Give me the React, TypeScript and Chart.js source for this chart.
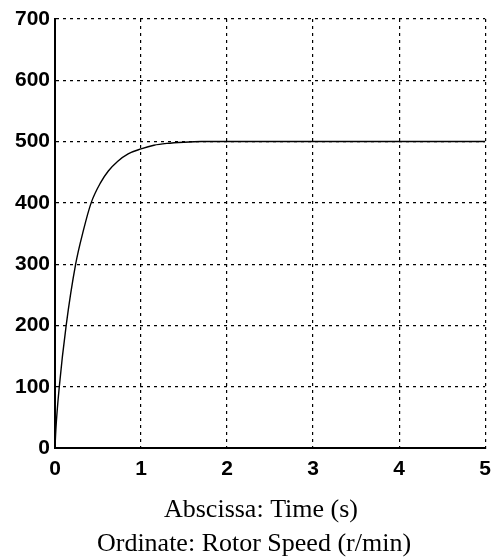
import React, { useEffect, useRef } from "react";
import { Chart, registerables } from "chart.js";

Chart.register(...registerables);

const timeS = [0, 0.01, 0.05, 0.13, 0.24, 0.33, 0.42, 0.53, 0.62, 0.73, 0.85, 1.0, 1.15, 1.3, 1.5, 1.7, 2.0, 3.0, 4.0, 5.0];
const rotorSpeed = [0, 30, 100, 200, 300, 355, 400, 433, 452, 468, 480, 488, 494, 497, 499, 500, 500, 500, 500, 500];
const xTicks = [0, 1, 2, 3, 4, 5];
const yTicks = [0, 100, 200, 300, 400, 500, 600, 700];
const captionLines = ["Abscissa: Time (s)", "Ordinate: Rotor Speed (r/min)"];

const tickFont = { family: "'Liberation Sans Narrow', 'Arial Narrow', 'Liberation Sans', sans-serif", size: 21, weight: "bold" as const };

export default function App() {
  const ref = useRef<HTMLCanvasElement | null>(null);
  useEffect(() => {
    if (!ref.current) return;
    const captionPlugin = {
      id: "caption",
      afterDraw(chart: any) {
        const ctx = chart.ctx;
        ctx.save();
        ctx.fillStyle = "#000";
        ctx.font = "26px 'Liberation Serif', 'Times New Roman', serif";
        ctx.textAlign = "center";
        ctx.textBaseline = "alphabetic";
        ctx.fillText(captionLines[0], 261, 517);
        ctx.fillText(captionLines[1], 254, 551);
        ctx.restore();
      },
    };
    const chart = new Chart(ref.current, {
      type: "line",
      data: {
        datasets: [
          {
            data: timeS.map((t, i) => ({ x: t, y: rotorSpeed[i] })),
            borderColor: "#000",
            borderWidth: 1.4,
            pointRadius: 0,
            cubicInterpolationMode: "monotone",
            fill: false,
          },
        ],
      },
      options: {
        animation: false,
        responsive: false,
        maintainAspectRatio: false,
        layout: { padding: { top: 19, right: 14, bottom: 70, left: 0 } },
        plugins: { legend: { display: false }, tooltip: { enabled: false }, title: { display: false } },
        scales: {
          x: {
            type: "linear",
            min: 0,
            max: 5,
            afterBuildTicks: (s: any) => {
              s.ticks = xTicks.map((v) => ({ value: v }));
            },
            afterFit: (s: any) => {
              s.height = 40;
            },
            ticks: { color: "#000", font: tickFont, padding: 9, maxRotation: 0 },
            grid: { color: "#000", lineWidth: 1.2, drawTicks: false },
            border: { display: true, color: "#000", width: 2, dash: [3, 4] },
          },
          y: {
            type: "linear",
            min: 0,
            max: 700,
            afterBuildTicks: (s: any) => {
              s.ticks = yTicks.map((v) => ({ value: v }));
            },
            afterFit: (s: any) => {
              s.width = 55;
            },
            ticks: { color: "#000", font: tickFont, padding: 5 },
            grid: { color: "#000", lineWidth: 1.2, drawTicks: false },
            border: { display: true, color: "#000", width: 2, dash: [3, 4] },
          },
        },
      },
      plugins: [captionPlugin],
    } as any);
    return () => chart.destroy();
  }, []);
  return (
    <div style={{ position: "absolute", left: 0, top: 0, width: 500, height: 558, background: "#fff" }}>
      <canvas ref={ref} width={500} height={558} />
    </div>
  );
}
